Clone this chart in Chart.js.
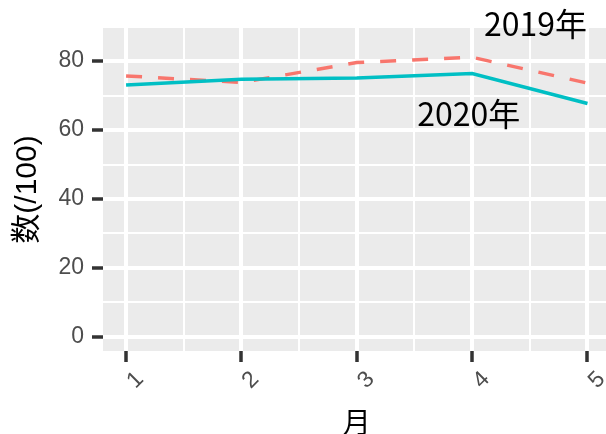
<!DOCTYPE html>
<html>
<head>
<meta charset="utf-8">
<script src="https://cdn.jsdelivr.net/npm/chart.js@4/dist/chart.umd.min.js"></script>
<style>
    html, body { margin: 0; padding: 0; background: #ffffff; overflow: hidden; }
</style>
</head>
<body>
<canvas id="chart_meses" width="611" height="434"></canvas>
<script>
// dados
const meses = [1, 2, 3, 4, 5];
const valores2019 = [75.7, 73.8, 79.6, 81.1, 73.6];
const valores2020 = [73.1, 74.7, 75.1, 76.4, 67.7];

const textosRotulo = ['2019年', '2020年'];
const rotuloX = [4.55, 3.97];
const rotuloY = [90.7, 64.6];

function pontos(valores) {
    let lista = [];
    for (let i = 0; i < meses.length; i++) {
        lista.push({ x: meses[i], y: valores[i] });
    }
    return lista;
}

// fundo cinza do painel
const fundoPainel = {
    id: 'fundoPainel',
    beforeDraw(chart) {
        const a = chart.chartArea;
        const ctx = chart.ctx;
        ctx.save();
        ctx.fillStyle = '#EBEBEB';
        ctx.fillRect(a.left, a.top, a.right - a.left, a.bottom - a.top);
        ctx.restore();
    }
};

// textos "2019年" / "2020年" em coordenadas dos dados
const rotulosSeries = {
    id: 'rotulosSeries',
    afterDraw(chart) {
        const ctx = chart.ctx;
        ctx.save();
        ctx.fillStyle = '#000000';
        ctx.font = '32px "Noto Sans CJK JP", "Noto Sans CJK SC", sans-serif';
        ctx.textAlign = 'center';
        ctx.textBaseline = 'middle';
        for (let i = 0; i < textosRotulo.length; i++) {
            const px = chart.scales.x.getPixelForValue(rotuloX[i]);
            const py = chart.scales.y.getPixelForValue(rotuloY[i]);
            ctx.fillText(textosRotulo[i], px, py);
        }
        ctx.restore();
    }
};

const dados = {
    datasets: [{
        label: '2020年',
        data: pontos(valores2020),
        borderColor: '#00BFC4',
        borderWidth: 3.5,
        pointRadius: 0,
        fill: false,
        tension: 0
    }, {
        label: '2019年',
        data: pontos(valores2019),
        borderColor: '#F8766D',
        borderWidth: 3.5,
        borderDash: [16, 16],
        pointRadius: 0,
        fill: false,
        tension: 0
    }]
};

const config_meses = {
    type: 'line',
    data: dados,
    options: {
        responsive: false,
        animation: false,
        layout: { padding: { top: 28, left: 0, right: 0, bottom: 0 } },
        plugins: {
            legend: { display: false },
            tooltip: { enabled: false }
        },
        scales: {
            x: {
                type: 'linear',
                min: 0.8,
                max: 5.2,
                afterFit: function (scale) { scale.height = 83; },
                border: { display: false },
                grid: {
                    color: '#FFFFFF',
                    lineWidth: (c) => Number.isInteger(c.tick.value) ? 4 : 2,
                    tickColor: (c) => Number.isInteger(c.tick.value) ? '#333333' : 'rgba(0,0,0,0)',
                    tickWidth: 3.5,
                    tickLength: 11
                },
                ticks: {
                    stepSize: 0.5,
                    includeBounds: false,
                    autoSkip: false,
                    minRotation: 45,
                    maxRotation: 45,
                    labelOffset: 14,
                    padding: 4,
                    color: '#4D4D4D',
                    font: { family: '"Liberation Sans", Arial, sans-serif', size: 23 },
                    callback: (v) => Number.isInteger(v) ? String(v) : ''
                },
                title: {
                    display: true,
                    text: '月',
                    color: '#000000',
                    font: { family: '"Noto Sans CJK SC", sans-serif', size: 28, lineHeight: 0.85 },
                    padding: { top: 0, bottom: 0 }
                }
            },
            y: {
                type: 'linear',
                min: -4.1,
                max: 89.6,
                afterFit: function (scale) { scale.width = 103; },
                border: { display: false },
                grid: {
                    color: '#FFFFFF',
                    lineWidth: (c) => c.tick.value % 20 === 0 ? 4 : 2,
                    tickColor: (c) => c.tick.value % 20 === 0 ? '#333333' : 'rgba(0,0,0,0)',
                    tickWidth: 3.5,
                    tickLength: 11
                },
                ticks: {
                    stepSize: 10,
                    includeBounds: false,
                    padding: 8,
                    color: '#4D4D4D',
                    font: { family: '"Liberation Sans", Arial, sans-serif', size: 23 },
                    callback: (v) => v % 20 === 0 ? String(v) : ''
                },
                title: {
                    display: true,
                    text: '数(/100)',
                    color: '#000000',
                    font: { family: '"Liberation Sans", "Noto Sans CJK SC", sans-serif', size: 30, lineHeight: 1.85 },
                    padding: { top: 0, bottom: 0 }
                }
            }
        }
    },
    plugins: [fundoPainel, rotulosSeries]
};

const chart_meses = new Chart(
    document.getElementById('chart_meses'),
    config_meses
);
</script>
</body>
</html>
